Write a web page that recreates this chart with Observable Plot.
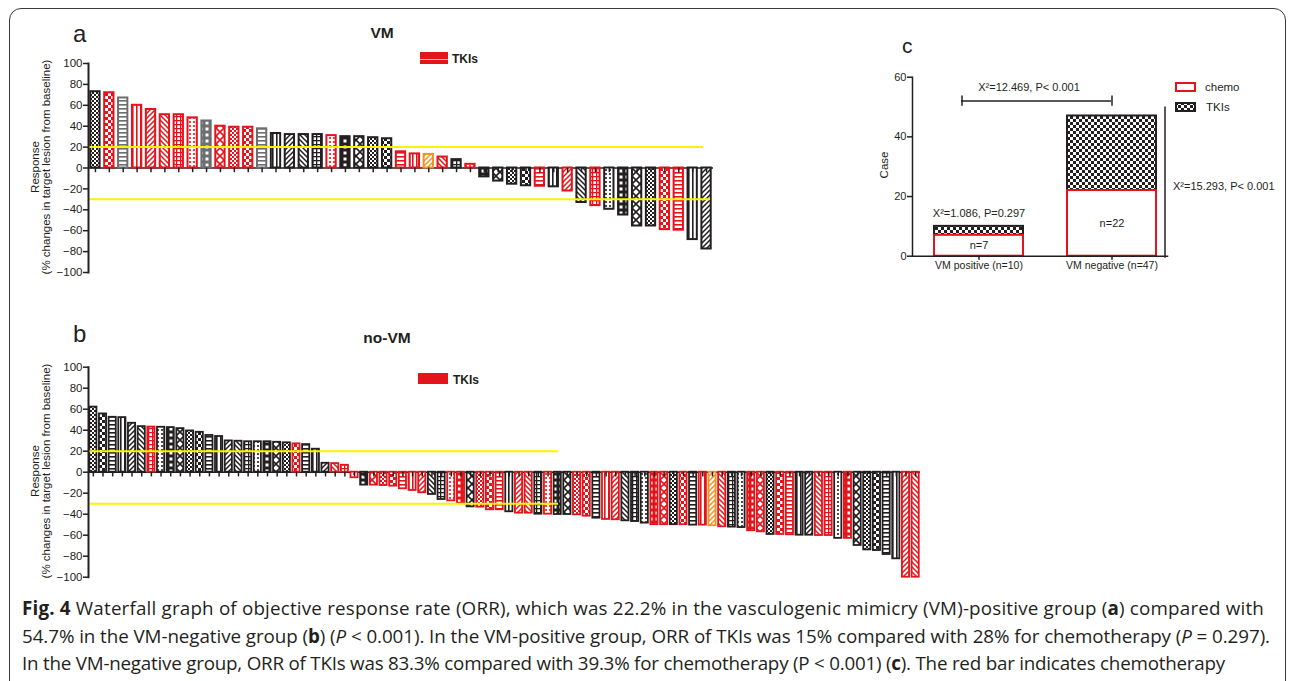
<!DOCTYPE html>
<html><head><meta charset="utf-8">
<script src="https://cdn.jsdelivr.net/npm/d3@7"></script>
<script src="https://cdn.jsdelivr.net/npm/@observablehq/plot@0.6"></script>
<style>
body{margin:0;background:#fff}
#fig{position:relative;width:1292px;height:681px;overflow:hidden;font-family:"Liberation Sans",Arial,sans-serif;color:#231f20}
.t{position:absolute;white-space:nowrap;line-height:1}
.capline{position:absolute;left:22px;font-family:"Open Sans",sans-serif;font-size:18.8px;line-height:27.5px;color:#231f20;white-space:nowrap}
</style></head><body><div id="fig"></div>
<script>
// ---------- data ----------
const vmValues = [73, 72, 67, 60, 56, 51, 51, 48, 45, 40,
  39, 39, 37.5, 33, 32, 32, 32, 31, 30, 30,
  29, 28, 15.5, 13.5, 13, 10.5, 8, 3.5,
  -8.5, -12.5, -15.5, -17, -17.5, -18, -22, -33, -36, -39.5,
  -45, -55.5, -55.5, -59, -59.5, -68.5, -77.5];
const vmGroups = ["C","T","G","T","T","T","T","T","G","T",
  "T","T","G","C","C","C","C","T","C","C",
  "C","C","T","T","O","T","C","T",
  "C","C","C","C","T","C","T","C","T","C",
  "C","C","C","T","T","C","C"];
const noVmValues = [62, 55.5, 52.3, 52, 46.6, 43.4, 43, 42.8, 42.5, 41.5,
  39.3, 38, 35, 34, 29.8, 29.5, 29, 29, 29, 28.5,
  28, 27, 26.3, 21.9, 8.5, 8.2, 6.6,
  -5.3, -12.3, -12.3, -12.7, -13.3, -15.8, -17.4, -19.6, -21.2, -26,
  -27.3, -29.5, -33, -33.3, -35.8, -35.8, -37.7, -39, -39, -40,
  -40, -40.3, -40.3, -40.6, -41.9, -43.8, -45, -45.3, -46.3, -47,
  -48.5, -50, -50, -50, -50, -50.4, -50.4, -51, -52, -52.3,
  -52.7, -55.8, -56.8, -59.3, -59.3, -59.6, -60, -60, -60.3, -60.3,
  -63, -63, -69.8, -74, -74.6, -78.4, -82.5, -100, -100];
const noVmGroups = ["C","C","C","C","C","C","T","C","C","C",
  "C","C","C","C","C","C","C","C","C","C",
  "C","T","C","C","C","T","T","T","C","T",
  "T","T","T","T","T","C","C","T","T","C",
  "T","T","T","C","T","T","C","T","C","C",
  "T","T","C","T","T","C","C","C","T","T",
  "C","T","C","T","O","T","C","C","T","T",
  "C","T","T","C","C","T","T","C","T","C",
  "C","C","C","C","T","T"];
const responseTicks = [-100, -80, -60, -40, -20, 0, 20, 40, 60, 80, 100];
const thresholds = [20, -30];
const caseCategories = ["VM positive (n=10)", "VM negative (n=47)"];
const chemoCounts = [7, 22];
const tkiCounts = [3, 25];
const caseTicks = [0, 20, 40, 60];
const withinTests = ["X²=1.086, P=0.297", "X²=15.293, P< 0.001"];
const betweenTest = "X²=12.469, P< 0.001";
const captionLines = [
  `<b>Fig. 4</b> Waterfall graph of objective response rate (ORR), which was 22.2% in the vasculogenic mimicry (VM)-positive group (<b>a</b>) compared with`,
  `54.7% in the VM-negative group (<b>b</b>) (<i>P</i> &lt; 0.001). In the VM-positive group, ORR of TKIs was 15% compared with 28% for chemotherapy (<i>P</i> = 0.297).`,
  `In the VM-negative group, ORR of TKIs was 83.3% compared with 39.3% for chemotherapy (P &lt; 0.001) (<b>c</b>). The red bar indicates chemotherapy`
];

// ---------- styles ----------
const ink = "#231f20", red = "#e3141b", yellow = "#fff200";
const groupColor = {C: ink, T: red, G: "#6d6e70", O: "#f39220"};
const patternTypes = ["checker","bigchecker","hline","vline","diag","anti","grid","dots","bricks","cross"];
function patternBody(type, c) {
  switch (type) {
    case "checker": return [4, `<rect width="2" height="2" fill="${c}"/><rect x="2" y="2" width="2" height="2" fill="${c}"/>`];
    case "bigchecker": return [6, `<rect width="3" height="3" fill="${c}"/><rect x="3" y="3" width="3" height="3" fill="${c}"/>`];
    case "hline": return [4, `<rect width="4" height="1.6" fill="${c}"/>`];
    case "vline": return [4, `<rect width="1.6" height="4" fill="${c}"/>`];
    case "diag": return [5, `<path d="M-1,1L1,-1M0,5L5,0M4,6L6,4" stroke="${c}" stroke-width="1.5"/>`];
    case "anti": return [5, `<path d="M-1,4L1,6M0,0L5,5M4,-1L6,1" stroke="${c}" stroke-width="1.5"/>`];
    case "grid": return [4, `<rect width="4" height="1.3" fill="${c}"/><rect width="1.3" height="4" fill="${c}"/>`];
    case "dots": return [4, `<circle cx="2" cy="2" r="1.1" fill="${c}"/>`];
    case "bricks": return [6, `<rect width="6" height="6" fill="${c}"/><rect x="1.5" y="1.5" width="3" height="3" fill="#fff"/>`];
    case "cross": return [8, `<path d="M0,0L8,8M8,0L0,8" stroke="${c}" stroke-width="1.6"/>`];
  }
}
let defs = "";
for (const [g, c] of Object.entries(groupColor)) for (const t of patternTypes) {
  const [s, body] = patternBody(t, c);
  defs += `<pattern id="p-${g}-${t}" patternUnits="userSpaceOnUse" width="${s}" height="${s}"><rect width="${s}" height="${s}" fill="#fff"/>${body}</pattern>`;
}
const fig = document.getElementById("fig");
const defSvg = document.createElementNS("http://www.w3.org/2000/svg", "svg");
defSvg.setAttribute("width", 0); defSvg.setAttribute("height", 0);
defSvg.style.position = "absolute";
defSvg.innerHTML = `<defs>${defs}</defs>`;
fig.appendChild(defSvg);

// frame border
const border = document.createElement("div");
Object.assign(border.style, {position:"absolute", left:"9px", top:"8px", width:"1277px", height:"720px", border:"1.5px solid #3a3a3a", borderRadius:"12px", boxSizing:"border-box"});
fig.appendChild(border);

function label(text, x, y, {size = 12, weight = 400, anchor = "start", rotate = false, html = false} = {}) {
  const d = document.createElement("div");
  d.className = "t";
  d[html ? "innerHTML" : "textContent"] = text;
  d.style.fontSize = size + "px";
  d.style.fontWeight = weight;
  d.style.left = x + "px";
  if (rotate) {
    d.style.top = y + "px";
    d.style.transform = "translate(-50%,-50%) rotate(-90deg)";
  } else {
    d.style.top = (y - 0.846 * size) + "px";
    if (anchor === "middle") d.style.transform = "translateX(-50%)";
  }
  fig.appendChild(d);
  return d;
}
function box(x, y, w, h, css) {
  const d = document.createElement("div");
  Object.assign(d.style, {position:"absolute", left:x+"px", top:y+"px", width:w+"px", height:h+"px", boxSizing:"border-box"}, css);
  fig.appendChild(d);
  return d;
}

const plotStyle = {fontFamily: '"Liberation Sans", Arial, sans-serif', fontSize: "11.5px", color: ink, background: "transparent", overflow: "visible"};

function waterfall(values, groups, o) {
  const data = values.map((v, i) => ({id: i, value: v, group: groups[i], pattern: patternTypes[i % patternTypes.length]}));
  const svg = Plot.plot({
    width: o.width, height: o.height,
    marginLeft: 88, marginRight: o.marginRight, marginTop: o.marginTop, marginBottom: o.marginBottom,
    x: {type: "band", domain: data.map(d => d.id), paddingInner: o.padding, paddingOuter: o.padding / 2, axis: null},
    y: {domain: [-100, 100], axis: null},
    color: {type: "identity"},
    style: plotStyle,
    marks: [
      Plot.ruleY([0], {stroke: ink, strokeWidth: 1.5}),
      Plot.barY(data, {x: "id", y1: 0, y2: "value",
        fill: d => `url(#p-${d.group}-${d.pattern})`,
        stroke: d => groupColor[d.group], strokeWidth: o.barStroke}),
      Plot.ruleX(data, {x: "id", y1: 0, y2: -4.5, stroke: ink, strokeWidth: 1.5}),
      Plot.ruleY([thresholds[0]], {stroke: yellow, strokeWidth: 2, insetRight: o.yellowInsets[0]}),
      Plot.ruleY([thresholds[1]], {stroke: yellow, strokeWidth: 2, insetRight: o.yellowInsets[1]}),
      Plot.frame({anchor: "left", stroke: ink, strokeWidth: 2}),
      Plot.axisY({ticks: responseTicks, tickSize: 5, tickPadding: 1, strokeWidth: 1.5, fontSize: 11.5, label: null})
    ]
  });
  Object.assign(svg.style, {position: "absolute", left: o.left + "px", top: o.top + "px"});
  fig.appendChild(svg);
}

// panel a
waterfall(vmValues, vmGroups, {left: 0, top: 0, width: 740, height: 300, marginTop: 63, marginBottom: 28, marginRight: 27, padding: 0.33, barStroke: 2, yellowInsets: [10, 3]});
label("a", 73, 42, {size: 24});
label("VM", 382, 38, {size: 15.5, weight: 700, anchor: "middle"});
box(420, 52, 28, 12, {background: `linear-gradient(${red} 0 55%, #f6b6b8 55% 68%, ${red} 68%)`});
label("TKIs", 452, 63, {size: 12, weight: 700});
label("Response", 36, 167, {size: 11.5, rotate: true});
label("(% changes in target lesion from baseline)", 47, 167, {size: 11.5, rotate: true});

// panel b
waterfall(noVmValues, noVmGroups, {left: 0, top: 300, width: 940, height: 300, marginTop: 66.7, marginBottom: 23.3, marginRight: 20, padding: 0.26, barStroke: 1.8, yellowInsets: [362, 362]});
label("b", 73, 342, {size: 24});
label("no-VM", 387, 343, {size: 15.5, weight: 700, anchor: "middle"});
box(418, 373, 30, 11, {background: red});
label("TKIs", 453, 384.5, {size: 12, weight: 700});
label("Response", 36, 471, {size: 11.5, rotate: true});
label("(% changes in target lesion from baseline)", 47, 471, {size: 11.5, rotate: true});

// panel c
const chemoRows = caseCategories.map((cat, i) => ({cat, y1: 0, y2: chemoCounts[i], n: chemoCounts[i]}));
const tkiRows = caseCategories.map((cat, i) => ({cat, y1: chemoCounts[i], y2: chemoCounts[i] + tkiCounts[i], n: tkiCounts[i]}));
const totals = caseCategories.map((cat, i) => ({cat, total: chemoCounts[i] + tkiCounts[i], text: withinTests[i]}));
const bracketY = d3.max(totals, d => d.total) + 5;
const svgC = Plot.plot({
  width: 432, height: 270, marginLeft: 52, marginRight: 125, marginTop: 56.7, marginBottom: 34.3,
  x: {type: "band", domain: caseCategories, range: [52, 318], paddingInner: 0.33, paddingOuter: 0.165, axis: null},
  y: {domain: [0, 60], axis: null},
  color: {type: "identity"},
  style: plotStyle,
  marks: [
    Plot.barY(tkiRows, {x: "cat", y1: "y1", y2: "y2", fill: "url(#p-C-bigchecker)", stroke: ink, strokeWidth: 2}),
    Plot.barY(chemoRows, {x: "cat", y1: "y1", y2: "y2", fill: "#fff", stroke: red, strokeWidth: 2}),
    Plot.text(chemoRows, {x: "cat", y: d => d.n / 2, text: d => `n=${d.n}`, fontSize: 11}),
    Plot.text(totals.slice(0, 1), {x: "cat", y: "total", dy: -13, text: "text", fontSize: 11}),
    Plot.text(totals.slice(1), {x: "cat", y: d => d.total / 2, dx: 61, text: "text", textAnchor: "start", fontSize: 11}),
    Plot.ruleX(totals.slice(1), {x: "cat", y1: 0, y2: "total", dx: 53, insetTop: 2, insetBottom: 9, stroke: ink, strokeWidth: 1.5}),
    Plot.ruleY([bracketY], {x1: () => caseCategories[0], x2: () => caseCategories[1], insetLeft: 27, insetRight: 45, stroke: ink, strokeWidth: 1.5}),
    Plot.ruleX([caseCategories[0]], {y1: bracketY - 1.7, y2: bracketY + 1.7, dx: -17, stroke: ink, strokeWidth: 1.5}),
    Plot.ruleX([caseCategories[1]], {y1: bracketY - 1.7, y2: bracketY + 1.7, stroke: ink, strokeWidth: 1.5}),
    Plot.text([betweenTest], {x: () => caseCategories[0], y: bracketY + 4.7, dx: 50, text: d => d, fontSize: 11}),
    Plot.frame({anchor: "left", stroke: ink, strokeWidth: 1.5}),
    Plot.frame({anchor: "bottom", stroke: ink, strokeWidth: 1.5}),
    Plot.axisY({ticks: caseTicks, tickSize: 5, tickPadding: 1, strokeWidth: 1.5, fontSize: 11, label: null}),
    Plot.axisX({tickSize: 4, tickPadding: 1, strokeWidth: 1.5, fontSize: 10.5, label: null})
  ]
});
Object.assign(svgC.style, {position: "absolute", left: "860px", top: "20px"});
fig.appendChild(svgC);
label("c", 902, 53, {size: 21});
label("Case", 885, 165, {size: 11.5, rotate: true});
box(1175, 82, 21, 10, {border: `2px solid ${red}`, background: "#fff"});
label("chemo", 1205, 92, {size: 11.5});
const sw = document.createElementNS("http://www.w3.org/2000/svg", "svg");
sw.setAttribute("width", 21); sw.setAttribute("height", 10);
Object.assign(sw.style, {position: "absolute", left: "1175px", top: "102px"});
sw.innerHTML = `<rect x="1" y="1" width="19" height="8" fill="url(#p-C-bigchecker)" stroke="${ink}" stroke-width="2"/>`;
fig.appendChild(sw);
label("TKIs", 1206, 112, {size: 11.5});

// caption: three lines, each fitted to the reference line length
const lineWidths = [1242, 1248, 1203];
captionLines.forEach((html, i) => {
  const d = document.createElement("div");
  d.className = "capline";
  d.style.top = (595 + i * 27.5) + "px";
  d.innerHTML = html;
  fig.appendChild(d);
  const w = d.getBoundingClientRect().width;
  const n = d.textContent.length;
  d.style.letterSpacing = ((lineWidths[i] - w) / n) + "px";
});
</script></body></html>
